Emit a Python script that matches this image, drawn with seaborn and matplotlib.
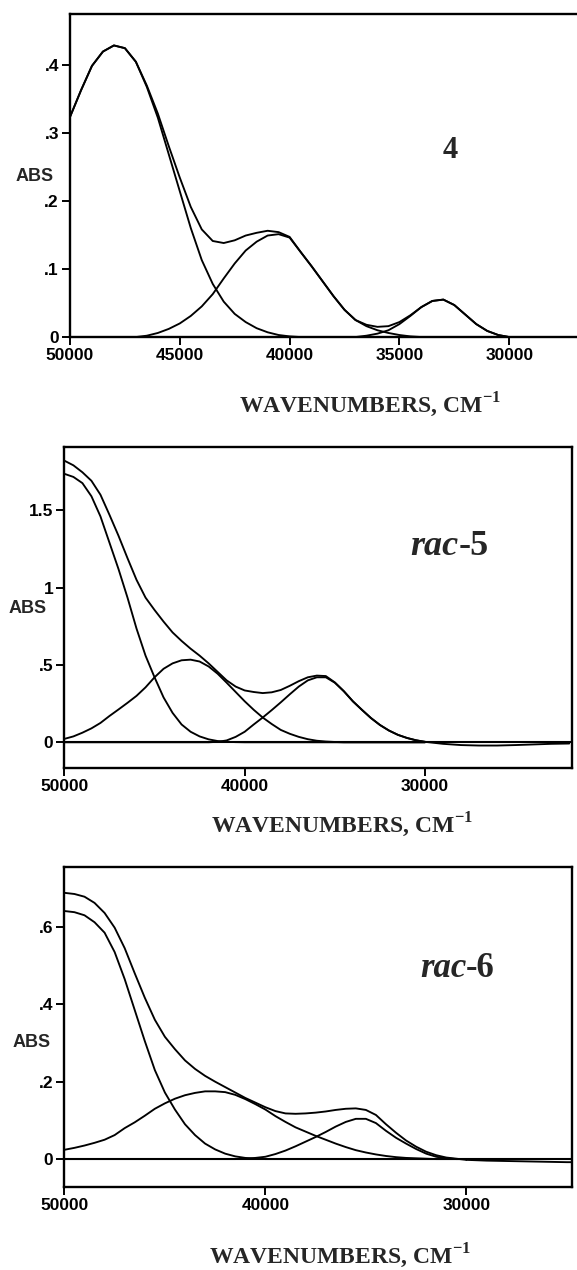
import numpy as np
import matplotlib
matplotlib.use("Agg")
import matplotlib.pyplot as plt
import seaborn as sns

# sampled every 500 cm-1, from 50000 down to 30000
wavenumbers = np.arange(50000, 29999, -500)

# compound 4
band1_4 = [.323, .362, .398, .419, .428, .424, .404, .367, .322, .268,
           .214, .160, .113, .078, .052, .034, .022, .013, .007, .003,
           .001, 0, 0, 0, 0, 0, 0, 0, 0, 0,
           0, 0, 0, 0, 0, 0, 0, 0, 0, 0, 0]
band2_4 = [0, 0, 0, 0, 0, 0, 0, .002, .006, .012,
           .020, .031, .045, .063, .086, .108, .127, .140, .149, .151,
           .146, .125, .104, .082, .060, .040, .025, .016, .010, .006,
           .003, .001, 0, 0, 0, 0, 0, 0, 0, 0, 0]
band3_4 = [0, 0, 0, 0, 0, 0, 0, 0, 0, 0,
           0, 0, 0, 0, 0, 0, 0, 0, 0, 0,
           0, 0, 0, 0, 0, 0, 0, .002, .005, .010,
           .019, .031, .044, .053, .055, .047, .033, .019, .009, .003, 0]
total_4 = [.323, .362, .398, .419, .428, .424, .404, .369, .328, .280,
           .234, .191, .158, .141, .138, .142, .149, .153, .156, .154,
           .147, .125, .104, .082, .060, .040, .025, .018, .015, .016,
           .022, .032, .044, .053, .055, .047, .033, .019, .009, .003, 0]

# rac-5
band1_5 = [1.735, 1.715, 1.675, 1.590, 1.460, 1.290, 1.120, .935, .735, .560,
           .420, .290, .190, .115, .068, .038, .019, .008, .003, .001,
           0, 0, 0, 0, 0, 0, 0, 0, 0, 0,
           0, 0, 0, 0, 0, 0, 0, 0, 0, 0, 0]
band2_5 = [.022, .038, .062, .090, .125, .170, .212, .255, .300, .355,
           .420, .475, .510, .530, .534, .522, .490, .443, .385, .325,
           .265, .210, .160, .118, .080, .055, .035, .020, .010, .005,
           .002, 0, 0, 0, 0, 0, 0, 0, 0, 0, 0]
band3_5 = [0, 0, 0, 0, 0, 0, 0, 0, 0, 0,
           0, 0, 0, 0, 0, 0, 0, .003, .012, .035,
           .068, .115, .160, .208, .258, .310, .360, .400, .420, .420,
           .385, .330, .265, .210, .157, .112, .076, .048, .028, .013, .003]
total_5 = [1.820, 1.790, 1.745, 1.690, 1.600, 1.470, 1.335, 1.190, 1.050, .935,
           .855, .780, .710, .655, .605, .560, .510, .455, .400, .360,
           .335, .325, .318, .323, .338, .365, .395, .420, .431, .428,
           .387, .330, .265, .210, .157, .112, .076, .048, .028, .013, .003]
tail_x_5 = [30000, 29000, 28000, 27000, 26000, 25000, 24000, 23000, 22000]
tail_y_5 = [.003, -.010, -.018, -.021, -.021, -.018, -.014, -.010, -.008]

# rac-6
band1_6 = [.641, .638, .630, .612, .585, .535, .465, .385, .305, .230,
           .172, .128, .090, .062, .040, .025, .014, .007, .003, .001,
           0, 0, 0, 0, 0, 0, 0, 0, 0, 0,
           0, 0, 0, 0, 0, 0, 0, 0, 0, 0, 0]
band2_6 = [.024, .029, .035, .042, .050, .062, .080, .095, .112, .130,
           .144, .156, .165, .171, .175, .175, .173, .166, .155, .142,
           .128, .111, .096, .082, .071, .060, .050, .040, .031, .023,
           .017, .012, .008, .005, .003, .002, .001, 0, 0, 0, 0]
band3_6 = [0, 0, 0, 0, 0, 0, 0, 0, 0, 0,
           0, 0, 0, 0, 0, 0, 0, 0, .001, .003,
           .006, .013, .022, .033, .045, .057, .070, .084, .096, .104,
           .104, .093, .073, .055, .040, .026, .014, .006, .002, 0, 0]
total_6 = [.688, .685, .678, .662, .636, .598, .545, .480, .417, .360,
           .316, .284, .255, .233, .215, .200, .186, .172, .158, .146,
           .134, .124, .118, .117, .118, .120, .123, .127, .130, .131,
           .127, .114, .090, .068, .048, .032, .019, .010, .004, .001, -.002]
tail_x_6 = [30000, 29000, 28000, 27000, 26000, 25000, 24500]
tail_y_6 = [-.002, -.004, -.005, -.006, -.007, -.008, -.008]

SANS = "Liberation Sans"
SERIF = "Liberation Serif"
LW = 1.35


def draw_curves(ax, curves):
    for vals in curves:
        sns.lineplot(x=wavenumbers, y=vals, ax=ax, color="black", linewidth=LW,
                     sort=False, estimator=None, solid_joinstyle="round")


def style_axis(ax, xlim, ylim, xticks, yticks, yticklabels):
    ax.set_xlim(*xlim)
    ax.set_ylim(*ylim)
    ax.set_xticks(xticks)
    ax.set_xticklabels([str(t) for t in xticks], fontsize=12.5,
                       fontweight="bold", family=SANS)
    ax.set_yticks(yticks)
    ax.set_yticklabels(yticklabels, fontsize=12.5, fontweight="bold", family=SANS)
    ax.tick_params(direction="out", length=6, width=1.4, pad=2, colors="black")
    ax.set_xlabel("")
    ax.set_ylabel("")
    for sp in ax.spines.values():
        sp.set_linewidth(1.7)
        sp.set_color("black")


sns.set_style("ticks")
plt.rcParams["font.family"] = [SANS, "DejaVu Sans"]
plt.rcParams["mathtext.fontset"] = "custom"
plt.rcParams["mathtext.rm"] = "Liberation Serif:bold"
plt.rcParams["mathtext.bf"] = "Liberation Serif:bold"

fig = plt.figure(figsize=(5.77, 12.7), dpi=100)

# panel 4
ax1 = fig.add_axes([0.1213, 0.7346, 0.8787, 0.2543])
draw_curves(ax1, [band1_4, band2_4, band3_4, total_4])
style_axis(ax1, (50000, 26913), (0, 0.474),
           [50000, 45000, 40000, 35000, 30000],
           [0, .1, .2, .3, .4], ["0", ".1", ".2", ".3", ".4"])
ax1.spines["right"].set_visible(False)

# panel rac-5
ax2 = fig.add_axes([0.1116, 0.3953, 0.8797, 0.2528])
draw_curves(ax2, [band1_5, band2_5, band3_5, total_5])
sns.lineplot(x=tail_x_5, y=tail_y_5, ax=ax2, color="black", linewidth=LW,
             sort=False, estimator=None)
ax2.axhline(0, color="black", linewidth=1.5)
style_axis(ax2, (50000, 21847), (-0.166, 1.909),
           [50000, 40000, 30000],
           [0, .5, 1, 1.5], ["0", ".5", "1", "1.5"])

# panel rac-6
ax3 = fig.add_axes([0.1116, 0.0654, 0.8797, 0.2520])
draw_curves(ax3, [band1_6, band2_6, band3_6, total_6])
sns.lineplot(x=tail_x_6, y=tail_y_6, ax=ax3, color="black", linewidth=LW,
             sort=False, estimator=None)
ax3.axhline(0, color="black", linewidth=1.5)
style_axis(ax3, (50000, 24746), (-0.072, 0.755),
           [50000, 40000, 30000],
           [0, .2, .4, .6], ["0", ".2", ".4", ".6"])

# axis titles
for x, y in [(0.0607, 0.8614), (0.048, 0.521), (0.054, 0.1795)]:
    fig.text(x, y, "ABS", ha="center", va="center", fontsize=13,
             fontweight="bold", family=SANS)

for x, y in [(0.641, 0.681), (0.593, 0.3504), (0.589, 0.011)]:
    fig.text(x, y, "WAVENUMBERS, CM$^{\\mathbf{-1}}$", ha="center", va="center",
             fontsize=17, fontweight="bold", family=SERIF)

# compound names
fig.text(0.780, 0.8756, "4", ha="center", va="baseline", fontsize=22,
         fontweight="bold", family=SERIF)
for xs, yb, num, fs in [(0.795, 0.563, "-5", 26), (0.808, 0.2307, "-6", 25)]:
    fig.text(xs, yb, "rac", ha="right", va="baseline", fontsize=fs,
             fontweight="bold", fontstyle="italic", family=SERIF)
    fig.text(xs, yb, num, ha="left", va="baseline", fontsize=fs,
             fontweight="bold", family=SERIF)

fig.savefig("out.png", dpi=100, facecolor="white")
